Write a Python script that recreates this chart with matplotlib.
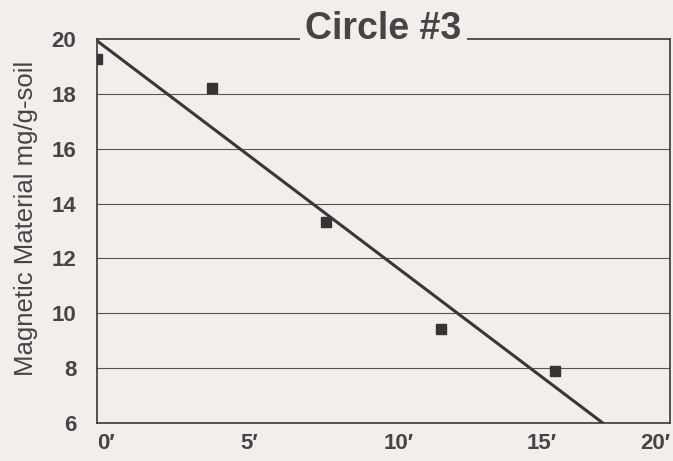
import numpy as np
import matplotlib
matplotlib.use("Agg")
import matplotlib.pyplot as plt

# Sample distance from circle centre (feet) and magnetic material content
distance_ft = [0, 4, 8, 12, 16]
magnetic_mg = [19.27, 18.21, 13.32, 9.42, 7.88]

x_ticks = [0, 5, 10, 15, 20]
x_tick_labels = ["0\u2032", "5\u2032", "10\u2032", "15\u2032", "20\u2032"]
y_ticks = [6, 8, 10, 12, 14, 16, 18, 20]

title = "Circle #3"
y_label = "Magnetic Material mg/g-soil"

bg = "#f1eeec"
ink = "#3d3537"
text_col = "#4a4345"

plt.rcParams["font.family"] = ["Liberation Sans", "DejaVu Sans"]

fig = plt.figure(figsize=(6.73, 4.61), dpi=100, facecolor=bg)
ax = fig.add_axes([97 / 673, 1 - 423 / 461, 573 / 673, 384 / 461])
ax.set_facecolor(bg)

ax.set_xlim(0, 20)
ax.set_ylim(6, 20)

# horizontal grid lines
for yv in y_ticks[1:-1]:
    ax.axhline(yv, color="#5a5355", lw=0.8, zorder=1)

# least-squares trend line
slope, intercept = np.polyfit(distance_ft, magnetic_mg, 1)
xs = np.array([0, 20])
ax.plot(xs, slope * xs + intercept, color=ink, lw=2.2, zorder=3)

# measured samples
ax.plot(distance_ft, magnetic_mg, linestyle="none", marker="s", markersize=7,
        color="#3a3335", zorder=4)

for side in ["left", "bottom", "top", "right"]:
    ax.spines[side].set_color(ink)
    ax.spines[side].set_linewidth(1.2)

ax.set_xticks(x_ticks)
ax.set_xticklabels(x_tick_labels)
ax.set_yticks(y_ticks)
ax.tick_params(axis="both", length=0, labelsize=16, labelcolor=text_col)
ax.tick_params(axis="y", pad=15)
ax.tick_params(axis="x", pad=7)
for lab in ax.get_xticklabels() + ax.get_yticklabels():
    lab.set_fontweight("bold")
# distance labels sit just right of their tick; the last one stays inside the frame
xlabs = ax.get_xticklabels()
for lab in xlabs[:-1]:
    lab.set_horizontalalignment("left")
xlabs[-1].set_horizontalalignment("right")

ax.set_ylabel(y_label, fontsize=18.5, color=text_col)
ax.yaxis.set_label_coords(-0.103, 0.534)

ax.text(0.5, 1.0, title, transform=ax.transAxes, ha="center", va="baseline",
        fontsize=27, fontweight="bold", color=text_col, zorder=10,
        bbox=dict(facecolor=bg, edgecolor="none", pad=4))

fig.savefig("out.png", dpi=100, facecolor=bg)
